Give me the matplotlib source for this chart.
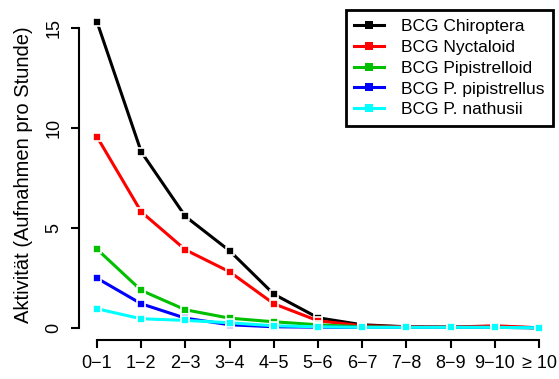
import numpy as np
import matplotlib.pyplot as plt

plt.rcParams['font.family'] = ['Liberation Sans', 'DejaVu Sans']

# Stundenklassen nach Sonnenuntergang
klassen = ["0\u22121", "1\u22122", "2\u22123", "3\u22124", "4\u22125", "5\u22126",
           "6\u22127", "7\u22128", "8\u22129", "9\u221210", "\u2265 10"]

chiroptera = [15.3, 8.8, 5.57, 3.85, 1.68, 0.5, 0.15, 0.05, 0.03, 0.05, 0.0]
nyctaloid = [9.55, 5.8, 3.9, 2.8, 1.2, 0.35, 0.1, 0.05, 0.03, 0.1, 0.0]
pipistrelloid = [3.93, 1.87, 0.9, 0.48, 0.3, 0.15, 0.05, 0.02, 0.02, 0.02, 0.0]
p_pipistrellus = [2.48, 1.2, 0.48, 0.15, 0.05, 0.03, 0.02, 0.02, 0.02, 0.02, 0.0]
p_nathusii = [0.95, 0.45, 0.37, 0.25, 0.1, 0.05, 0.02, 0.02, 0.02, 0.02, 0.0]

reihen = [
    ("BCG Chiroptera", chiroptera, "black"),
    ("BCG Nyctaloid", nyctaloid, "#ff0000"),
    ("BCG Pipistrelloid", pipistrelloid, "#00c000"),
    ("BCG P. pipistrellus", p_pipistrellus, "#0000ff"),
    ("BCG P. nathusii", p_nathusii, "#00ffff"),
]

fig = plt.figure(figsize=(5.59, 3.79), dpi=100)
ax = fig.add_axes([0.142, 0.103, 0.854, 0.871])

x = np.arange(len(klassen))
for name, werte, farbe in reihen:
    ax.plot(x, werte, color=farbe, lw=2.2, marker="s", ms=6,
            mec="white", mew=1.2, label=name)

ax.set_xlim(-0.4, 10.4)
ax.set_ylim(-0.61, 15.91)
ax.set_xticks(x)
ax.set_xticklabels(klassen)
ax.set_yticks([0, 5, 10, 15])
ax.set_yticklabels(["0", "5", "10", "15"], rotation=90, va="center")
ax.set_ylabel("Aktivität (Aufnahmen pro Stunde)", fontsize=14.5, labelpad=9)

for s in ["top", "right"]:
    ax.spines[s].set_visible(False)
ax.spines["left"].set_bounds(0, 15)
ax.spines["bottom"].set_bounds(0, 10)
ax.spines["left"].set_linewidth(1.5)
ax.spines["bottom"].set_linewidth(1.5)
ax.tick_params(direction="out", length=6, width=1.5, labelsize=13)
ax.tick_params(axis="x", pad=5)
ax.tick_params(axis="y", pad=6)

leg = ax.legend(loc="upper right", bbox_to_anchor=(1.0, 1.01), fontsize=12.5,
                frameon=True, fancybox=False, edgecolor="black", framealpha=1,
                handlelength=1.7, borderpad=0.5, labelspacing=0.33,
                handletextpad=1.0, borderaxespad=0.2)
leg.get_frame().set_linewidth(2.0)
for h in leg.legend_handles:
    h.set_markeredgewidth(0)

fig.savefig("out.png", dpi=100)
